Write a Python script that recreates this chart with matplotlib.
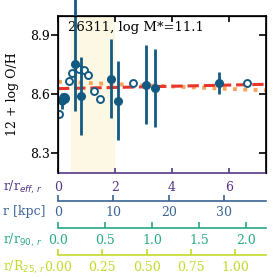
import numpy as np
import matplotlib
matplotlib.use('Agg')
import matplotlib.pyplot as plt

plt.rcParams['font.family'] = 'DejaVu Serif'
plt.rcParams['font.size'] = 9

# open circles (spaxels)
r_open = [0.04, 0.38, 0.50, 0.75, 0.92, 1.06, 1.26, 1.47, 2.64, 6.62]
oh_open = [8.50, 8.668, 8.709, 8.728, 8.725, 8.696, 8.618, 8.578, 8.657, 8.659]

# filled points with errors
r_fill = [0.15, 0.22, 0.61, 0.81, 1.86, 2.09, 3.08, 3.40, 5.65]
oh_fill = [8.565, 8.58, 8.755, 8.592, 8.68, 8.567, 8.65, 8.632, 8.657]
err_lo = [0.04, 0.02, 0.24, 0.20, 0.20, 0.20, 0.20, 0.20, 0.055]
err_hi = [0.04, 0.02, 0.40, 0.20, 0.20, 0.20, 0.20, 0.20, 0.055]
size_fill = [5, 7, 5.5, 5.5, 5.5, 5.5, 5.5, 5.5, 5.5]

# fitted profiles (end points)
r_line = [0.0, 7.3]
oh_red = [8.629, 8.651]
oh_orange = [8.664, 8.620]

shade = [0.47, 2.0]
xmax = 7.3
kpc_per_reff = 5.135
r90_in_reff = 3.30
r25_in_reff = 6.22

c_pt = '#135a82'
c_pur = '#563889'
c_blu = '#3b6393'
c_grn = '#27a985'
c_yel = '#c2d92a'

fig = plt.figure(figsize=(2.77, 2.77), dpi=100)
ax = fig.add_axes([0.2094, 0.3755, 0.7509, 0.5679])

ax.axvspan(shade[0], shade[1], color='#fdf8e4', zorder=0, lw=0)
ax.plot(r_line, oh_orange, ':', color='#f8a65c', lw=2.8, zorder=2)
ax.plot(r_line, oh_red, '--', color='#e8372a', lw=2.2, zorder=2)
ax.plot(r_open, oh_open, 'o', mfc='white', mec=c_pt, mew=1.4, ms=5, zorder=3)
for x, y, lo, hi, s in zip(r_fill, oh_fill, err_lo, err_hi, size_fill):
    ax.errorbar(x, y, yerr=[[lo], [hi]], fmt='o', color=c_pt, ms=s,
                elinewidth=2, capsize=0, zorder=4, clip_on=False)

ax.text(0.048, 0.928, '26311, log M*=11.1', transform=ax.transAxes,
        ha='left', va='center', fontsize=9.5)

ax.set_xlim(0, xmax)
ax.set_ylim(8.2, 9.0)
ax.set_yticks([8.3, 8.6, 8.9])
ax.set_xticks([0, 2, 4, 6])
for s in ax.spines.values():
    s.set_linewidth(1.2)
ax.spines['bottom'].set_color(c_pur)
ax.tick_params(axis='y', direction='out', length=5, width=1.2, pad=1)
ax.tick_params(axis='x', direction='in', length=3.6, width=1.2, pad=5.5,
               colors=c_pur)

# black top and right ticks
tx = ax.twiny()
tx.set_xlim(0, xmax)
tx.set_xticks([0, 2, 4, 6])
tx.tick_params(axis='x', direction='in', length=4, width=1.2, labeltop=False)
tx.spines['bottom'].set_visible(False)
ty = ax.twinx()
ty.set_ylim(8.2, 9.0)
ty.set_yticks([8.3, 8.6, 8.9])
ty.tick_params(axis='y', direction='in', length=5, width=1.2, labelright=False)
ty.spines['bottom'].set_visible(False)

def extra_axis(off, factor, ticks, labels, color, pad):
    a = ax.twiny()
    a.set_xlim(0, xmax * factor)
    a.xaxis.set_ticks_position('bottom')
    a.xaxis.set_label_position('bottom')
    a.spines['bottom'].set_position(('outward', off))
    for s in ['top', 'left', 'right']:
        a.spines[s].set_visible(False)
    a.spines['bottom'].set_color(color)
    a.spines['bottom'].set_linewidth(1.2)
    a.set_xticks(ticks)
    a.set_xticklabels(labels)
    a.tick_params(axis='x', direction='in', length=4, width=1.2, pad=pad,
                  colors=color)
    return a

extra_axis(19.9, kpc_per_reff, [0, 10, 20, 30], ['0', '10', '20', '30'], c_blu, 4.2)
extra_axis(39.4, 1 / r90_in_reff, [0, 0.5, 1.0, 1.5, 2.0],
           ['0.0', '0.5', '1.0', '1.5', '2.0'], c_grn, 4.8)
extra_axis(59.0, 1 / r25_in_reff, [0, 0.25, 0.5, 0.75, 1.0],
           ['0.00', '0.25', '0.50', '0.75', '1.00'], c_yel, 4.5)

fig.text(13 / 277, 0.66, '12 + log O/H', rotation=90, ha='center', va='center')
fig.text(3 / 277, 1 - 187 / 277, r'r/r$_{eff,\,r}$', color=c_pur, ha='left', va='center')
fig.text(3 / 277, 1 - 212 / 277, 'r [kpc]', color=c_blu, ha='left', va='center')
fig.text(3 / 277, 1 - 240 / 277, r'r/r$_{90,\,r}$', color=c_grn, ha='left', va='center')
fig.text(3 / 277, 1 - 267 / 277, r'r/R$_{25,\,r}$', color=c_yel, ha='left', va='center')

fig.savefig('out.png', dpi=100)
